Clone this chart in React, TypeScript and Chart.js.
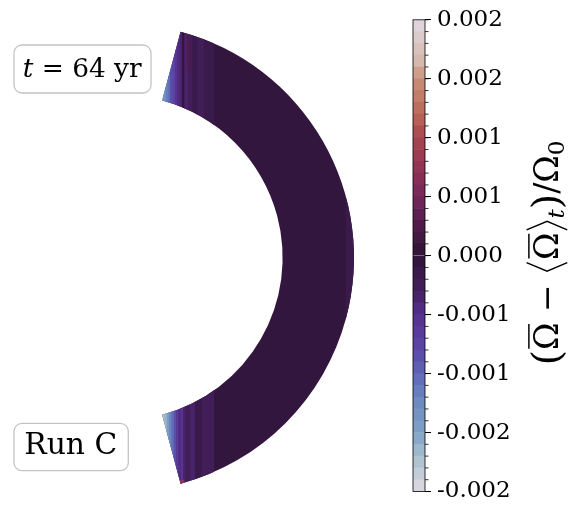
import React, { useEffect, useRef } from "react";
import { Chart, registerables } from "chart.js";

Chart.register(...registerables);

// ---- Shell geometry (data units, outer radius = 1) ----
const rInner = 0.695;
const rOuter = 1.0;
const thetaMinDeg = 15;
const thetaMaxDeg = 165;

// ---- Field values ----
const baseValue = -0.00005;

// Northern cap: stripes of constant cylindrical radius s
const northEdges = [0.17, 0.185, 0.195, 0.205, 0.215, 0.225, 0.235, 0.245, 0.255, 0.265, 0.275, 0.29, 0.31, 0.33, 0.36, 0.4];
const northValues = [-0.00165, -0.00135, -0.00115, -0.00105, -0.00085, -0.00075, -0.00055, -0.00045, -0.00035, 0.00005, -0.00035, -0.00025, -0.00015, -0.00025, -0.00015];

// Southern cap
const southEdges = [0.17, 0.18, 0.19, 0.2, 0.21, 0.22, 0.23, 0.24, 0.25, 0.26, 0.27, 0.28, 0.3, 0.32, 0.35, 0.4];
const southValues = [-0.00185, -0.00175, -0.00165, -0.00145, -0.00125, -0.00105, -0.00085, -0.00065, -0.00045, -0.00055, -0.00035, -0.00025, -0.00035, -0.00015, -0.00025];

// Local patches (s range, z range, value)
const patchSMin = [0.255, 0.285, 0.965];
const patchSMax = [0.272, 0.295, 1.0];
const patchZMin = [-1.0, 0.8, -0.3];
const patchZMax = [-0.95, 0.95, 0.3];
const patchValues = [0.00075, 0.00025, -0.00015];

// ---- Colour scale ----
const vMin = -0.002;
const vMax = 0.002;
const nLevels = 40;
const cbTickValues = [-0.002, -0.0015, -0.001, -0.0005, 0, 0.0005, 0.001, 0.0015, 0.002];
const cbTickLabels = ["-0.002", "-0.002", "-0.001", "-0.001", "0.000", "0.001", "0.001", "0.002", "0.002"];

const cmapStops = [0, 0.075, 0.125, 0.2, 0.25, 0.3, 0.375, 0.425, 0.5, 0.575, 0.625, 0.675, 0.75, 0.8, 0.875, 0.9125, 1];
const cmapColors = [
  [226, 217, 226], [166, 191, 206], [126, 162, 199], [106, 133, 192], [95, 102, 182],
  [91, 71, 167], [86, 48, 142], [69, 32, 95], [47, 20, 54], [86, 28, 78],
  [118, 40, 90], [142, 48, 85], [168, 71, 79], [187, 104, 88], [201, 144, 120],
  [212, 185, 172], [226, 217, 226],
];

const timeText = "64 yr";
const runText = "Run C";

function cmap(t: number): string {
  t = Math.max(0, Math.min(1, t));
  let k = 0;
  while (k < cmapStops.length - 2 && t > cmapStops[k + 1]) k++;
  const f = (t - cmapStops[k]) / (cmapStops[k + 1] - cmapStops[k]);
  const a = cmapColors[k], b = cmapColors[k + 1];
  const c = a.map((v, i) => Math.round(v + (b[i] - v) * f));
  return `rgb(${c[0]},${c[1]},${c[2]})`;
}

function levelIndex(v: number): number {
  const i = Math.floor(((v - vMin) / (vMax - vMin)) * nLevels + 1e-9);
  return Math.max(0, Math.min(nLevels - 1, i));
}

function valueColor(v: number): string {
  return cmap((levelIndex(v) + 0.5) / nLevels);
}

function roundBox(ctx: CanvasRenderingContext2D, x: number, y: number, w: number, h: number, r: number) {
  ctx.beginPath();
  ctx.moveTo(x + r, y);
  ctx.lineTo(x + w - r, y);
  ctx.arcTo(x + w, y, x + w, y + r, r);
  ctx.lineTo(x + w, y + h - r);
  ctx.arcTo(x + w, y + h, x + w - r, y + h, r);
  ctx.lineTo(x + r, y + h);
  ctx.arcTo(x, y + h, x, y + h - r, r);
  ctx.lineTo(x, y + r);
  ctx.arcTo(x, y, x + r, y, r);
  ctx.closePath();
  ctx.fillStyle = "rgba(255,255,255,0.85)";
  ctx.fill();
  ctx.strokeStyle = "#c4c4c4";
  ctx.lineWidth = 1.3;
  ctx.stroke();
}

type Piece = { text: string; italic?: boolean };

function drawPieces(ctx: CanvasRenderingContext2D, pieces: Piece[], x: number, baseline: number, targetW: number) {
  const F0 = 30;
  let total = 0;
  for (const p of pieces) {
    ctx.font = `${p.italic ? "italic " : ""}${F0}px "DejaVu Serif"`;
    total += ctx.measureText(p.text).width;
  }
  const F = (F0 * targetW) / total;
  let cx = x;
  ctx.fillStyle = "#000";
  ctx.textBaseline = "alphabetic";
  ctx.textAlign = "left";
  for (const p of pieces) {
    ctx.font = `${p.italic ? "italic " : ""}${F}px "DejaVu Serif"`;
    ctx.fillText(p.text, cx, baseline);
    cx += ctx.measureText(p.text).width;
  }
}

const shellPlugin = {
  id: "shell",
  beforeDatasetsDraw(chart: any) {
    const { ctx } = chart;
    const xs = chart.scales.x, ys = chart.scales.y;
    const cx = xs.getPixelForValue(0), cy = ys.getPixelForValue(0);
    const ro = xs.getPixelForValue(rOuter) - cx;
    const ri = xs.getPixelForValue(rInner) - cx;
    const a0 = ((thetaMinDeg - 90) * Math.PI) / 180;
    const a1 = ((thetaMaxDeg - 90) * Math.PI) / 180;
    ctx.save();
    ctx.beginPath();
    ctx.arc(cx, cy, ro, a0, a1, false);
    ctx.arc(cx, cy, ri, a1, a0, true);
    ctx.closePath();
    ctx.fillStyle = valueColor(baseValue);
    ctx.fill();
    ctx.clip();
    const rect = (s0: number, s1: number, z0: number, z1: number, v: number) => {
      const px0 = xs.getPixelForValue(s0), px1 = xs.getPixelForValue(s1);
      const py0 = ys.getPixelForValue(z1), py1 = ys.getPixelForValue(z0);
      ctx.fillStyle = valueColor(v);
      ctx.fillRect(px0, py0, px1 - px0 + 0.4, py1 - py0);
    };
    for (let i = 0; i < northValues.length; i++) rect(northEdges[i], northEdges[i + 1], 0, 1.05, northValues[i]);
    for (let i = 0; i < southValues.length; i++) rect(southEdges[i], southEdges[i + 1], -1.05, 0, southValues[i]);
    for (let i = 0; i < patchValues.length; i++) rect(patchSMin[i], patchSMax[i], patchZMin[i], patchZMax[i], patchValues[i]);
    ctx.restore();
  },
  afterDraw(chart: any) {
    const { ctx } = chart;
    ctx.save();
    roundBox(ctx, 14, 45, 137, 48, 8);
    drawPieces(ctx, [{ text: "t", italic: true }, { text: " = " }, { text: timeText }], 22.7, 77, 119);
    roundBox(ctx, 14, 423.3, 114.3, 47.4, 8);
    drawPieces(ctx, [{ text: runText }], 24.3, 454, 93);
    ctx.restore();
  },
};

const cbPlugin = {
  id: "cbExtras",
  afterDraw(chart: any) {
    const { ctx, chartArea } = chart;
    const ys = chart.scales.y;
    ctx.save();
    // minor ticks
    ctx.strokeStyle = "#000";
    ctx.lineWidth = 0.8;
    for (let i = 0; i <= nLevels; i++) {
      const v = vMin + ((vMax - vMin) * i) / nLevels;
      const py = ys.getPixelForValue(v);
      ctx.beginPath();
      ctx.moveTo(chartArea.right, py);
      ctx.lineTo(chartArea.right + 3.5, py);
      ctx.stroke();
    }
    // outline
    ctx.strokeRect(chartArea.left, chartArea.top, chartArea.right - chartArea.left, chartArea.bottom - chartArea.top);

    // colourbar label (rotated)
    const F0 = 30;
    const fam = '"DejaVu Serif", "DejaVu Sans"';
    type P = { t: string; kind: string };
    const pieces: P[] = [
      { t: "(", kind: "paren" },
      { t: "Ω", kind: "bar" },
      { t: " − ", kind: "n" },
      { t: "", kind: "langle" },
      { t: "Ω", kind: "bar" },
      { t: "", kind: "rangle" },
      { t: "t", kind: "subi" },
      { t: ")", kind: "paren" },
      { t: "/", kind: "n" },
      { t: "Ω", kind: "n" },
      { t: "0", kind: "sub" },
    ];
    const setFont = (k: string, F: number) => {
      if (k === "paren") ctx.font = `${F * 1.2}px ${fam}`;
      else if (k === "subi") ctx.font = `italic ${F * 0.7}px ${fam}`;
      else if (k === "sub") ctx.font = `${F * 0.7}px ${fam}`;
      else ctx.font = `${F}px ${fam}`;
    };
    const widthOf = (p: P, F: number) => {
      if (p.kind === "langle" || p.kind === "rangle") return 0.42 * F;
      setFont(p.kind, F);
      return ctx.measureText(p.t).width;
    };
    let tot = 0;
    for (const p of pieces) tot += widthOf(p, F0);
    const F = (F0 * 225) / tot;
    const ws = pieces.map((p) => widthOf(p, F));
    const L = ws.reduce((a, b) => a + b, 0);
    ctx.translate(558, 253);
    ctx.rotate(-Math.PI / 2);
    ctx.fillStyle = "#000";
    ctx.strokeStyle = "#000";
    ctx.textBaseline = "alphabetic";
    ctx.textAlign = "left";
    let x = -L / 2;
    pieces.forEach((p, i) => {
      const w = ws[i];
      if (p.kind === "langle" || p.kind === "rangle") {
        ctx.lineWidth = 0.045 * F;
        ctx.beginPath();
        if (p.kind === "langle") {
          ctx.moveTo(x + 0.34 * F, -0.95 * F);
          ctx.lineTo(x + 0.08 * F, -0.33 * F);
          ctx.lineTo(x + 0.34 * F, 0.28 * F);
        } else {
          ctx.moveTo(x + 0.08 * F, -0.95 * F);
          ctx.lineTo(x + 0.34 * F, -0.33 * F);
          ctx.lineTo(x + 0.08 * F, 0.28 * F);
        }
        ctx.stroke();
      } else {
        setFont(p.kind, F);
        let dy = 0;
        if (p.kind === "sub" || p.kind === "subi") dy = 0.18 * F;
        if (p.kind === "paren") dy = 0.05 * F;
        ctx.fillText(p.t, x, dy);
        if (p.kind === "bar") {
          ctx.lineWidth = 0.045 * F;
          ctx.beginPath();
          ctx.moveTo(x + 0.04 * F, -0.88 * F);
          ctx.lineTo(x + w - 0.04 * F, -0.88 * F);
          ctx.stroke();
        }
      }
      x += w;
    });
    ctx.restore();
  },
};

export default function App() {
  const mainRef = useRef<HTMLCanvasElement>(null);
  const cbRef = useRef<HTMLCanvasElement>(null);

  useEffect(() => {
    const main = new Chart(mainRef.current!, {
      type: "scatter",
      data: { datasets: [{ data: [] }] },
      options: {
        responsive: false,
        animation: false,
        devicePixelRatio: 1,
        layout: { padding: { left: 120, right: 199.6, top: 12, bottom: 12.6 } },
        scales: {
          x: { type: "linear", min: 0, max: 1.1, display: false },
          y: { type: "linear", min: -1.05, max: 1.05, display: false },
        },
        plugins: { legend: { display: false }, tooltip: { enabled: false } },
      },
      plugins: [shellPlugin],
    } as any);

    const levelDatasets = [];
    for (let i = 0; i < nLevels; i++) {
      const lo = vMin + ((vMax - vMin) * i) / nLevels;
      const hi = vMin + ((vMax - vMin) * (i + 1)) / nLevels;
      levelDatasets.push({
        data: [[lo, hi]],
        backgroundColor: cmap((i + 0.5) / nLevels),
        borderWidth: 0,
        barPercentage: 1,
        categoryPercentage: 1,
        grouped: false,
      });
    }

    const cb = new Chart(cbRef.current!, {
      type: "bar",
      data: { labels: [""], datasets: levelDatasets },
      options: {
        responsive: false,
        animation: false,
        devicePixelRatio: 1,
        layout: { padding: { left: 413, right: 0, top: 19.5, bottom: 24.5 } },
        scales: {
          x: { display: false },
          y: {
            type: "linear",
            position: "right",
            min: vMin,
            max: vMax,
            afterBuildTicks: (scale: any) => {
              scale.ticks = cbTickValues.map((v) => ({ value: v }));
            },
            afterFit: (scale: any) => {
              scale.width = 152;
            },
            ticks: {
              callback: (_v: any, idx: number) => cbTickLabels[idx],
              font: { family: "DejaVu Serif", size: 23 },
              color: "#000",
              padding: 6,
            },
            grid: { drawOnChartArea: false, drawTicks: true, tickLength: 6, color: "#000", lineWidth: 1 },
            border: { display: false },
          },
        },
        plugins: { legend: { display: false }, tooltip: { enabled: false } },
      },
      plugins: [cbPlugin],
    } as any);

    return () => {
      main.destroy();
      cb.destroy();
    };
  }, []);

  return (
    <div style={{ position: "absolute", left: 0, top: 0, width: 577, height: 516, background: "#fff" }}>
      <canvas ref={mainRef} width={577} height={516} style={{ position: "absolute", left: 0, top: 0 }} />
      <canvas ref={cbRef} width={577} height={516} style={{ position: "absolute", left: 0, top: 0 }} />
    </div>
  );
}
